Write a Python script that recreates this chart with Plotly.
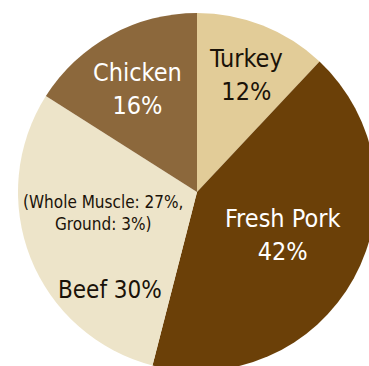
import plotly.graph_objects as go

labels = ["Turkey", "Fresh Pork", "Beef", "Chicken"]
values = [12, 42, 30, 16]
colors = ["#E2CC98", "#6B4008", "#EDE4C9", "#8C683C"]

W, H = 400, 400
fig = go.Figure(go.Pie(
    labels=labels, values=values, sort=False, direction="clockwise",
    rotation=0, marker=dict(colors=colors, line=dict(width=0)),
    textinfo="none", hoverinfo="label+percent",
    domain=dict(x=[0.045, 0.94], y=[0.0725, 0.9675]),
    showlegend=False,
))

font = "DejaVu Sans Condensed, DejaVu Sans, sans-serif"
ann = [
    ("Turkey<br>12%", 246, 75, "#1a1208", 25),
    ("Chicken<br>16%", 137, 89, "#ffffff", 25),
    ("Fresh Pork<br>42%", 282, 235, "#ffffff", 25),
    ("(Whole Muscle: 27%,<br>Ground: 3%)", 103, 213, "#1a1208", 17),
    ("Beef 30%", 110, 290, "#1a1208", 24),
]
for txt, x, y, c, s in ann:
    fig.add_annotation(text=txt, x=x / W, y=1 - y / H, xref="paper", yref="paper",
                       showarrow=False, font=dict(family=font, size=s, color=c),
                       xanchor="center", yanchor="middle", align="center")

fig.update_layout(width=W, height=H, margin=dict(l=0, r=0, t=0, b=0),
                  paper_bgcolor="white", plot_bgcolor="white")
post = (
    "document.documentElement.style.overflow='hidden';"
    "document.body.style.overflow='hidden';document.body.style.margin='0';"
    "var st=document.createElement('style');"
    "st.textContent='.annotation-text{font-stretch:condensed !important;}';"
    "document.head.appendChild(st);"
)
fig.write_html("out.html", post_script=post)
